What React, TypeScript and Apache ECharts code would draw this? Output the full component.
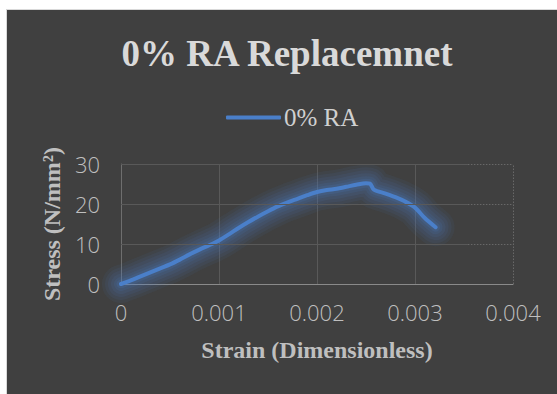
import React, { useEffect, useRef } from "react";
import * as echarts from "echarts";

// Stress–strain readings for the 0% recycled-aggregate mix
const strain = [
  0, 0.0001, 0.0002, 0.0003, 0.0004, 0.0005, 0.0006, 0.0007, 0.0008, 0.0009,
  0.001, 0.0011, 0.0012, 0.0013, 0.0014, 0.0015, 0.0016, 0.0017, 0.0018,
  0.0019, 0.002, 0.0021, 0.0022, 0.0023, 0.0024, 0.0025, 0.00254, 0.00258,
  0.0027, 0.0028, 0.0029, 0.003, 0.0031, 0.00321,
];
const stress = [
  0, 0.9, 1.9, 2.9, 3.9, 4.9, 6.1, 7.4, 8.6, 9.7,
  10.9, 12.4, 14.0, 15.5, 16.9, 18.2, 19.4, 20.4, 21.3,
  22.2, 23.0, 23.5, 23.8, 24.3, 24.8, 25.2, 25.1, 23.6,
  22.6, 21.7, 20.6, 19.1, 16.5, 14.2,
];

const seriesName = "0% RA";
const titleText = "0% RA Replacemnet";
const xAxisTitle = "Strain (Dimensionless)";
const yAxisTitle = "Stress (N/mm²)";

const xTicks = { min: 0, max: 0.004, interval: 0.001 };
const yTicks = { min: 0, max: 30, interval: 10 };
// gridlines switch from solid to dotted past this strain
const gridFadeFrom = 0.00354;
const yGridValues = [10, 20, 30];

const lineColor = "#4a7fc9";
// soft halo around the curve, widest layer first
const glowLayers = [
  { width: 38, opacity: 0.07 },
  { width: 32, opacity: 0.08 },
  { width: 26, opacity: 0.09 },
  { width: 20, opacity: 0.1 },
  { width: 14, opacity: 0.12 },
  { width: 9, opacity: 0.15 },
];

export default function App() {
  const ref = useRef<HTMLDivElement>(null);

  useEffect(() => {
    if (!ref.current) return;
    const chart = echarts.init(ref.current, undefined, { renderer: "svg" });
    const points = strain.map((s, i) => [s, stress[i]]);
    const labelFont = { fontFamily: "Open Sans", fontWeight: 300 as any, fontSize: 22, color: "#bfbfbf" };
    const serifBold = { fontFamily: "Liberation Serif", fontWeight: "bold" as any, color: "#bfbfbf", fontSize: 24 };

    const solidGrid = { color: "#595959", width: 1, type: "solid" as const };
    const dottedGrid = { color: "#686868", width: 1, type: [1.5, 1.5] as any };

    const gridMarks: any[] = [];
    yGridValues.forEach((v) => {
      gridMarks.push([
        { coord: [xTicks.min, v], lineStyle: solidGrid },
        { coord: [gridFadeFrom, v] },
      ]);
      gridMarks.push([
        { coord: [gridFadeFrom, v], lineStyle: dottedGrid },
        { coord: [xTicks.max, v] },
      ]);
    });
    gridMarks.push([
      { coord: [xTicks.max, yTicks.min], lineStyle: dottedGrid },
      { coord: [xTicks.max, yTicks.max] },
    ]);

    const glowSeries = glowLayers.map((g, i) => ({
      name: "glow" + i,
      type: "line",
      data: points,
      smooth: 0.3,
      showSymbol: false,
      symbol: "none",
      silent: true,
      z: 1,
      lineStyle: {
        color: lineColor,
        opacity: g.opacity,
        width: g.width,
        cap: "round",
        join: "round",
      },
    }));

    chart.setOption({
      animation: false,
      backgroundColor: "#ffffff",
      graphic: [
        {
          type: "rect",
          z: -10,
          silent: true,
          shape: { x: 6.5, y: 9.5, width: 560, height: 400 },
          style: { fill: "#404040", stroke: "#d9d9d9", lineWidth: 1 },
        },
      ],
      title: {
        text: titleText,
        left: 282,
        textAlign: "center",
        top: 30,
        textStyle: {
          fontFamily: "Liberation Serif",
          fontWeight: "bold",
          fontSize: 37,
          color: "#d9d9d9",
        },
      },
      legend: {
        data: [seriesName],
        left: 221,
        top: 100,
        icon: "roundRect",
        itemWidth: 55,
        itemHeight: 4,
        itemGap: 4,
        textStyle: { fontFamily: "Liberation Serif", fontSize: 25, color: "#d0d0d0", padding: [0, 0, 0, -2] },
      },
      grid: { left: 121, right: 44, top: 164, bottom: 110, containLabel: false },
      xAxis: {
        type: "value",
        min: xTicks.min,
        max: xTicks.max,
        interval: xTicks.interval,
        name: xAxisTitle,
        nameLocation: "middle",
        nameGap: 54,
        nameTextStyle: serifBold,
        axisLine: { show: true, lineStyle: { color: "#8a8a8a", width: 1 } },
        axisTick: { show: false },
        axisLabel: { ...labelFont, margin: 17 },
        splitLine: {
          show: true,
          lineStyle: { color: ["#595959", "#595959", "#595959", "#595959", "rgba(0,0,0,0)"], width: 1 },
        },
      },
      yAxis: {
        type: "value",
        min: yTicks.min,
        max: yTicks.max,
        interval: yTicks.interval,
        name: yAxisTitle,
        nameLocation: "middle",
        nameRotate: 90,
        nameGap: 56,
        nameTextStyle: serifBold,
        axisLine: { show: true, lineStyle: { color: "#6e6e6e", width: 1 } },
        axisTick: { show: false },
        axisLabel: { ...labelFont, margin: 21 },
        splitLine: { show: false },
      },
      series: [
        {
          name: "grid",
          type: "line",
          data: [],
          silent: true,
          z: 0,
          markLine: {
            silent: true,
            symbol: ["none", "none"],
            label: { show: false },
            animation: false,
            data: gridMarks,
          },
        },
        ...glowSeries,
        {
          name: seriesName,
          type: "line",
          data: points,
          smooth: 0.3,
          showSymbol: false,
          symbol: "none",
          z: 3,
          itemStyle: { color: lineColor },
          lineStyle: {
            color: lineColor,
            width: 4,
            cap: "round",
            join: "round",
          },
        },
      ],
    });
    return () => chart.dispose();
  }, []);

  return (
    <div
      ref={ref}
      style={{ position: "fixed", left: 0, top: 0, width: 557, height: 394 }}
    />
  );
}
